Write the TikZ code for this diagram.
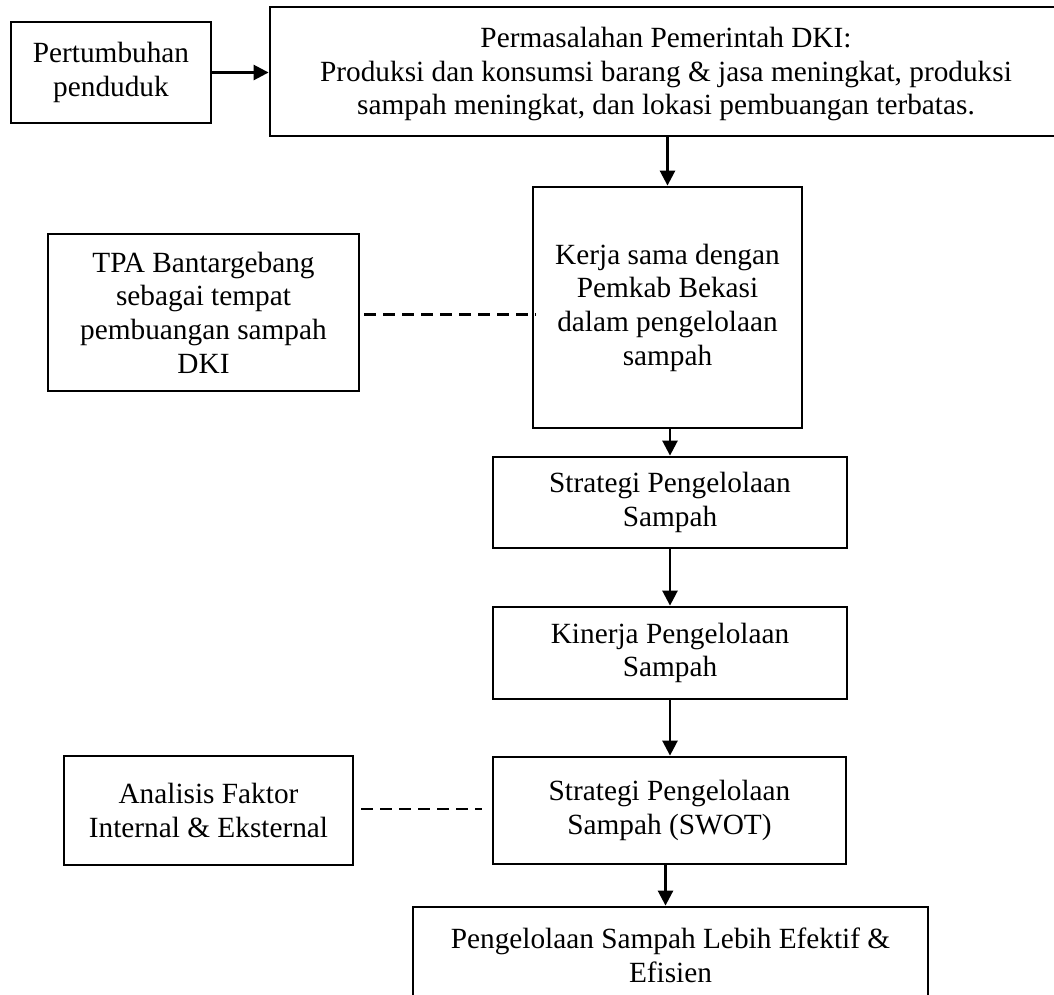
\documentclass[tikz,border=0pt]{standalone}
\usepackage{fontspec}
\setmainfont{Liberation Serif}
\usetikzlibrary{arrows.meta}
\tikzset{
  box/.style={draw=black, line width=2.8pt, fill=white, inner sep=0pt, align=center,
    font=\fontsize{29.3pt}{33.7pt}\selectfont},
  arr/.style={line width=2.6pt, -{Triangle[length=15pt,width=15pt]}},
  dashline/.style={line width=2.7pt, dash pattern=on 12pt off 7pt}
}
\begin{document}
\begin{tikzpicture}[x=1pt,y=-1pt]
\useasboundingbox[fill=white] (0,0) rectangle (1054,994);
\node[box, minimum width=200pt, minimum height=101pt] (pop) at (111,72.5) {Pertumbuhan\\penduduk};
\node[box, minimum width=792pt, minimum height=129pt] (top) at (666,71.5)
  {\raisebox{-3pt}[\height][\depth]{\begin{tabular}{@{}c@{}}Permasalahan Pemerintah DKI:\\Produksi dan konsumsi barang \& jasa meningkat, produksi\\sampah meningkat, dan lokasi pembuangan terbatas.\end{tabular}}};
\node[box, minimum width=269pt, minimum height=241pt] (kerja) at (667.5,307.5) {Kerja sama dengan\\Pemkab Bekasi\\dalam pengelolaan\\sampah};
\node[box, minimum width=311pt, minimum height=157pt] (tpa) at (203.5,312.5) {TPA Bantargebang\\sebagai tempat\\pembuangan sampah\\DKI};
\node[box, minimum width=354pt, minimum height=91pt] (strat) at (670,502.5) {Strategi Pengelolaan\\Sampah};
\node[box, minimum width=354pt, minimum height=92pt] (kin) at (670,653) {Kinerja Pengelolaan\\Sampah};
\node[box, minimum width=353pt, minimum height=107pt] (swot) at (669.5,810.5) {Strategi Pengelolaan\\Sampah (SWOT)};
\node[box, minimum width=289pt, minimum height=109pt] (ana) at (208.5,810.5) {Analisis Faktor\\Internal \& Eksternal};
\node[box, minimum width=515pt, minimum height=96pt] (fin) at (670.5,955) {Pengelolaan Sampah Lebih Efektif \&\\Efisien};

\draw[arr] (pop.east) -- (pop.east -| top.west);
\draw[arr] (kerja.north |- top.south) -- (kerja.north);
\draw[arr] (strat.north |- kerja.south) -- (strat.north);
\draw[arr] (strat.south) -- (kin.north);
\draw[arr] (kin.south) -- (kin.south |- swot.north);
\draw[arr] ([xshift=-4pt]swot.south) -- ([xshift=-4pt]swot.south |- fin.north);
\draw[dashline, shorten <=4pt, shorten >=-4pt] ([yshift=-2pt]tpa.east) -- ([yshift=-2pt]tpa.east -| kerja.west);
\draw[dashline, shorten <=7pt, shorten >=10pt] ([yshift=1.5pt]ana.east) -- ([yshift=1.5pt]ana.east -| swot.west);
\end{tikzpicture}
\end{document}
